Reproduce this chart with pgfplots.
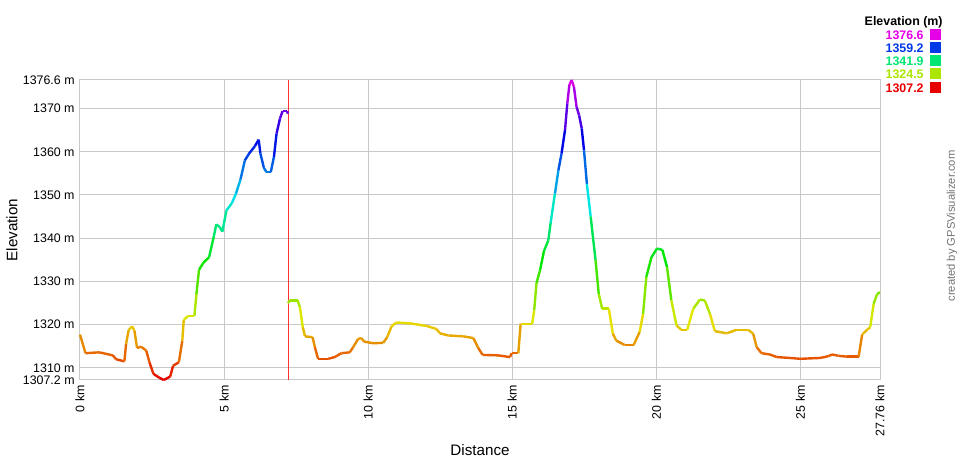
\documentclass[border=0pt]{standalone}
\usepackage{pgfplots}
\pgfplotsset{compat=1.18}
\usepackage{fontspec}
\setmainfont{Liberation Sans}
\definecolor{gridc}{RGB}{200,200,200}
\definecolor{cA}{RGB}{230,0,230}
\definecolor{cB}{RGB}{0,57,230}
\definecolor{cC}{RGB}{0,230,115}
\definecolor{cD}{RGB}{172,230,0}
\definecolor{cE}{RGB}{230,0,0}
\pgfplotsset{colormap={gps}{rgb255=(230,0,0) rgb255=(230,115,0) rgb255=(230,230,0) rgb255=(115,230,0) rgb255=(0,230,0) rgb255=(0,230,115) rgb255=(0,230,230) rgb255=(0,115,230) rgb255=(0,0,230) rgb255=(115,0,230) rgb255=(230,0,230)}}
\begin{document}
\begin{tikzpicture}
\path[use as bounding box] (-40pt,-40pt) rectangle (440pt,190pt);
\begin{axis}[
  at={(0pt,0pt)}, anchor=south west,
  scale only axis, width=400pt, height=150pt,
  xmin=0, xmax=27.76, ymin=1307.2, ymax=1376.6,
  axis line style={draw=gridc, line width=0.5pt},
  grid=major, grid style={draw=gridc, line width=0.5pt},
  major tick length=0pt,
  xtick={0,5,10,15,20,25,27.76},
  xticklabels={0 km,5 km,10 km,15 km,20 km,25 km,27.76 km},
  ytick={1307.2,1310,1320,1330,1340,1350,1360,1370,1376.6},
  yticklabels={1307.2 m,1310 m,1320 m,1330 m,1340 m,1350 m,1360 m,1370 m,1376.6 m},
  xticklabel style={rotate=90, anchor=east, inner sep=0pt, font=\fontsize{6.2pt}{7pt}\selectfont},
  yticklabel style={anchor=east, inner sep=0pt, font=\fontsize{6.2pt}{7pt}\selectfont},
  xticklabel shift=2.5pt, yticklabel shift=2.5pt,
  colormap name=gps, point meta min=1307.2, point meta max=1376.6,
  clip=false,
]
\addplot[red!80, line width=0.5pt] coordinates {(7.22,1307.2) (7.22,1376.6)};
\addplot[mesh, shader=interp, point meta=y, line width=1.2pt] table {
0 1317.7
0.19 1313.4
0.67 1313.6
1.14 1312.9
1.25 1312.0
1.54 1311.5
1.60 1315.6
1.69 1318.8
1.81 1319.6
1.89 1318.6
1.98 1314.6
2.12 1314.9
2.30 1314.0
2.41 1311.3
2.55 1308.6
2.76 1307.7
2.91 1307.2
3.13 1308.0
3.23 1310.5
3.43 1311.3
3.55 1316.3
3.60 1321.1
3.75 1322.0
3.97 1322.0
4.04 1327.1
4.13 1332.7
4.29 1334.4
4.48 1335.6
4.64 1340.3
4.73 1343.2
4.85 1342.6
4.94 1341.5
5.08 1346.4
5.27 1348.1
5.41 1350.3
5.57 1353.6
5.72 1358.0
5.87 1359.6
6.07 1361.3
6.20 1362.8
6.26 1359.6
6.38 1356.3
6.47 1355.3
6.62 1355.3
6.73 1358.8
6.82 1364.2
6.94 1367.7
7.03 1369.4
7.19 1369.4
7.21 1368.8
};
\addplot[mesh, shader=interp, point meta=y, line width=1.2pt] table {
7.21 1325.0
7.29 1325.6
7.55 1325.6
7.63 1324.1
7.73 1319.4
7.81 1317.3
8.07 1317.1
8.15 1314.8
8.26 1312.1
8.61 1312.1
8.84 1312.5
9.07 1313.4
9.36 1313.6
9.48 1314.8
9.65 1316.7
9.77 1316.9
9.85 1316.1
10.17 1315.7
10.52 1315.8
10.66 1317.1
10.81 1319.6
10.98 1320.5
11.45 1320.3
12.03 1319.7
12.37 1319.0
12.49 1318.0
12.78 1317.5
13.30 1317.3
13.65 1316.9
13.82 1314.6
13.97 1313.0
14.51 1312.9
14.92 1312.5
14.98 1313.4
15.21 1313.4
15.29 1320.2
15.69 1320.2
15.76 1323.3
15.84 1329.6
15.96 1332.5
16.10 1337.0
16.25 1339.5
16.33 1343.5
16.48 1350.3
16.60 1355.7
16.71 1359.6
16.83 1365.0
16.91 1371.2
16.98 1375.4
17.06 1376.6
17.14 1375.0
17.23 1370.4
17.32 1368.4
17.41 1365.4
17.49 1360.3
17.59 1352.5
17.72 1345.0
17.89 1334.9
18.00 1327.1
18.12 1323.7
18.35 1323.7
18.49 1317.9
18.61 1316.3
18.90 1315.3
19.21 1315.3
19.42 1318.3
19.54 1322.5
19.65 1331.0
19.83 1335.6
20.02 1337.6
20.21 1337.3
20.37 1333.3
20.52 1325.6
20.70 1319.8
20.87 1318.8
21.07 1318.8
21.28 1323.7
21.51 1325.8
21.68 1325.6
21.86 1322.5
22.03 1318.5
22.44 1318.0
22.78 1318.8
23.19 1318.8
23.36 1317.9
23.48 1314.8
23.65 1313.4
23.94 1313.1
24.18 1312.5
24.64 1312.3
24.99 1312.1
25.68 1312.3
25.97 1312.7
26.09 1313.1
26.32 1312.8
26.61 1312.6
27.02 1312.6
27.14 1317.7
27.31 1318.8
27.42 1319.4
27.54 1324.8
27.66 1327.1
27.76 1327.5
};
\end{axis}
\node[rotate=90, font=\fontsize{7.6pt}{9pt}\selectfont] at (-34pt,75pt) {Elevation};
\node[font=\fontsize{7.6pt}{9pt}\selectfont] at (200pt,-35pt) {Distance};
\node[rotate=90, text=black!55, font=\fontsize{5.6pt}{7pt}\selectfont] at (436pt,77pt) {created by GPSVisualizer.com};
\node[anchor=east, inner sep=0pt, font=\bfseries\fontsize{6.2pt}{7pt}\selectfont] at (431.5pt,179pt) {Elevation (m)};
\foreach \c/\v/\y in {cA/1376.6/172.5, cB/1359.2/166, cC/1341.9/159.5, cD/1324.5/153, cE/1307.2/146}{
  \node[anchor=east, inner sep=0pt, text=\c, font=\bfseries\fontsize{6.2pt}{7pt}\selectfont] at (422pt,\y pt) {\v};
  \fill[\c] (425pt,\y pt-2.75pt) rectangle (430.5pt,\y pt+2.75pt);
}
\end{tikzpicture}
\end{document}
